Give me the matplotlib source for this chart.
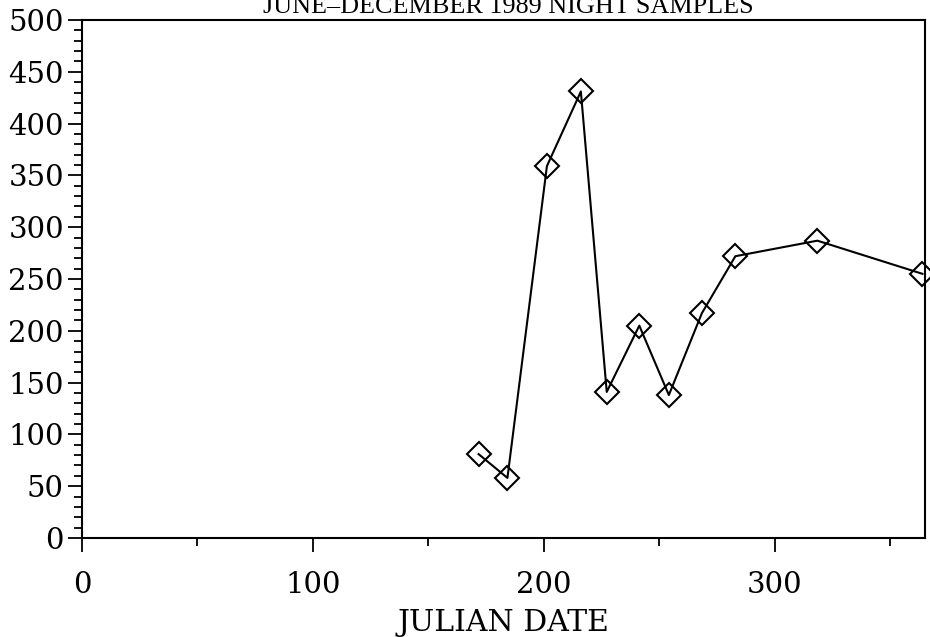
import matplotlib.pyplot as plt
from matplotlib.ticker import MultipleLocator

# Julian date vs value, night samples June-December 1989
julian_day = [171.7, 184.2, 201.3, 216.0, 227.2, 241.3, 254.1, 268.4, 282.9, 318.4, 363.9]
values = [81, 58, 359, 431, 141, 205, 138, 217, 272, 287, 255]

fig = plt.figure(figsize=(9.3, 6.37), dpi=100)
ax = fig.add_axes([0.0882, 0.1554, 0.9064, 0.8132])

ax.plot(julian_day, values, color='black', linewidth=1.5,
        marker='D', markersize=12, markerfacecolor='none',
        markeredgecolor='black', markeredgewidth=1.5, clip_on=False)

ax.set_xlim(0, 365)
ax.set_ylim(0, 500)

# all ticks point outward, minors shorter
ax.xaxis.set_major_locator(MultipleLocator(100))
ax.xaxis.set_minor_locator(MultipleLocator(50))
ax.yaxis.set_major_locator(MultipleLocator(50))
ax.yaxis.set_minor_locator(MultipleLocator(10))
ax.tick_params(axis='x', which='major', direction='out', length=10, width=1.3, pad=14)
ax.tick_params(axis='x', which='minor', direction='out', length=6, width=1.3)
ax.tick_params(axis='y', which='major', direction='out', length=10, width=1.3, pad=3)
ax.tick_params(axis='y', which='minor', direction='out', length=6, width=1.3)

for lab in ax.get_xticklabels() + ax.get_yticklabels():
    lab.set_fontfamily('DejaVu Serif')
    lab.set_fontsize(21)

for sp in ax.spines.values():
    sp.set_linewidth(1.5)

ax.set_xlabel('JULIAN DATE', fontfamily='DejaVu Serif', fontsize=21.5, labelpad=7)

fig.text(0.547, 0.980, 'JUNE\u2013DECEMBER 1989 NIGHT SAMPLES',
         fontfamily='Liberation Serif', fontsize=18.8, ha='center', va='baseline')

fig.savefig('out.png', dpi=100)
